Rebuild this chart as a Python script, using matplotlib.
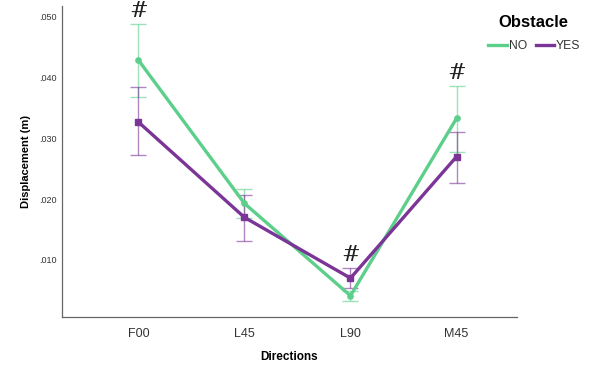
import matplotlib
matplotlib.use("Agg")
import matplotlib.pyplot as plt
from matplotlib.lines import Line2D
from matplotlib.ticker import FuncFormatter

plt.rcParams['font.family'] = ['Liberation Sans', 'DejaVu Sans']

directions = ["F00", "L45", "L90", "M45"]

no_mean = [0.0429, 0.0193, 0.0041, 0.0333]
no_low = [0.0368, 0.0169, 0.0033, 0.0277]
no_high = [0.0489, 0.0216, 0.0049, 0.0386]

yes_mean = [0.0327, 0.0170, 0.0070, 0.0270]
yes_low = [0.0272, 0.0131, 0.0053, 0.0227]
yes_high = [0.0384, 0.0207, 0.0087, 0.0311]

sig_marks = [True, False, True, True]

green = "#5ccf8b"
purple = "#7b3597"

fig = plt.figure(figsize=(5.91, 3.68), dpi=100)
ax = fig.add_axes([0.1049, 0.1386, 0.7699, 0.8451])

x = list(range(len(directions)))

for mean, low, high, col, mk in [
    (no_mean, no_low, no_high, green, "o"),
    (yes_mean, yes_low, yes_high, purple, "s"),
]:
    err = [[m - l for m, l in zip(mean, low)], [h - m for m, h in zip(mean, high)]]
    ax.errorbar(x, mean, yerr=err, fmt="none", ecolor=col, alpha=0.6,
                elinewidth=1.0, capsize=6, capthick=1.0, zorder=2)
    ax.plot(x, mean, color=col, lw=2.4, marker=mk, markersize=3.8, zorder=3)

for xi, s, a, b in zip(x, sig_marks, no_high, yes_high):
    if s:
        ax.text(xi, max(a, b) + 0.0003, "#", ha="center", va="bottom",
                fontsize=16, family="DejaVu Serif", color="#222222")

ax.set_xlim(-0.72, 3.57)
ax.set_ylim(0.0006, 0.0518)
ax.set_xticks(x)
ax.set_xticklabels(directions, fontsize=9, color="#333333")
ax.set_yticks([0.01, 0.02, 0.03, 0.04, 0.05])
ax.yaxis.set_major_formatter(FuncFormatter(lambda v, p: f"{v:.3f}".lstrip("0")))
ax.tick_params(axis="y", labelsize=6.5, length=0, pad=4, labelcolor="#333333")
ax.tick_params(axis="x", length=0, pad=8)

for side in ["top", "right"]:
    ax.spines[side].set_visible(False)
for side in ["left", "bottom"]:
    ax.spines[side].set_color("#666666")
    ax.spines[side].set_linewidth(0.9)

ax.set_xlabel("Directions", fontsize=8.5, fontweight="bold", labelpad=8)
ax.set_ylabel("Displacement (m)", fontsize=8, fontweight="bold", labelpad=6)

handles = [Line2D([], [], color=green, lw=2.4), Line2D([], [], color=purple, lw=2.4)]
leg = fig.legend(handles, ["NO", "YES"], loc="upper left", bbox_to_anchor=(0.808, 0.92),
                 ncol=2, frameon=False, fontsize=8.7, handlelength=1.5,
                 handletextpad=0.2, columnspacing=0.7)
for t in leg.get_texts():
    t.set_color("#333333")
fig.text(0.903, 0.94, "Obstacle", ha="center", va="center", fontsize=12, fontweight="bold")

fig.savefig("out.png", dpi=100)
